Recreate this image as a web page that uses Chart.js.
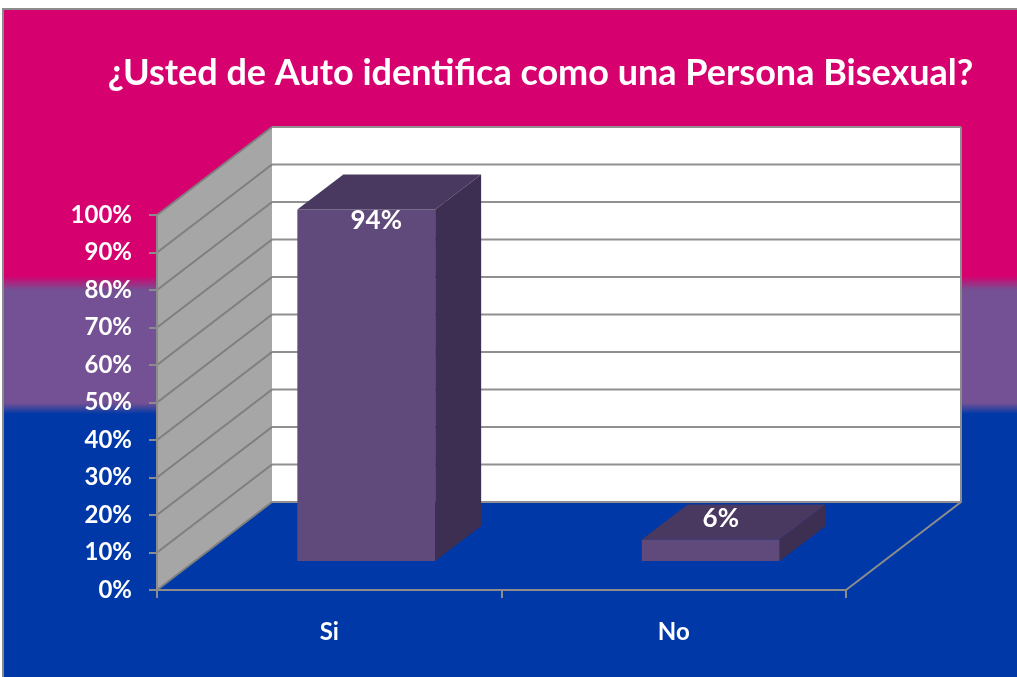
<!DOCTYPE html>
<html lang="es">
<head>
<meta charset="utf-8">
<title>¿Usted de Auto identifica como una Persona Bisexual?</title>
<script src="https://cdn.jsdelivr.net/npm/chart.js@4.4.1/dist/chart.umd.min.js"></script>
<style>
  html, body { margin: 0; padding: 0; background: #fff; overflow: hidden; }
  #wrap { width: 1017px; height: 677px; }
</style>
</head>
<body>
<div id="wrap"><canvas id="grafico" width="1017" height="677"></canvas></div>
<script>
// datos
const titulo = "¿Usted de Auto identifica como una Persona Bisexual?";
const categorias = ["Si", "No"];
const porcentajes = [94, 6];
const etiquetasValor = ["94%", "6%"];
const ticksY = [0, 10, 20, 30, 40, 50, 60, 70, 80, 90, 100];

// perspectiva (pared trasera y barras)
const PROF_X = 115, PROF_Y = -88;     // profundidad del suelo
const BARRA_TX = 37, BARRA_TY = -28;  // posicion de la cara frontal de las barras
const BARRA_DX = 46, BARRA_DY = -35;  // profundidad de cada barra

const FUENTE = "Lato, 'Open Sans', sans-serif";

function poligono(ctx, puntos, relleno, borde) {
  ctx.beginPath();
  ctx.moveTo(puntos[0][0], puntos[0][1]);
  for (let i = 1; i < puntos.length; i++) ctx.lineTo(puntos[i][0], puntos[i][1]);
  ctx.closePath();
  if (relleno) { ctx.fillStyle = relleno; ctx.fill(); }
  if (borde) { ctx.strokeStyle = borde; ctx.lineWidth = 1; ctx.stroke(); }
}

// fondo con los colores de la bandera y paredes 3D
const fondo3D = {
  id: "fondo3D",
  beforeDraw(chart) {
    const ctx = chart.ctx;
    const w = chart.width, h = chart.height;
    ctx.save();
    ctx.fillStyle = "#ffffff";
    ctx.fillRect(0, 0, w, h);

    const g = ctx.createLinearGradient(0, 0, 0, h);
    g.addColorStop(0, "#d6006f");
    g.addColorStop(276 / h, "#d6006f");
    g.addColorStop(290 / h, "#745194");
    g.addColorStop(403 / h, "#745194");
    g.addColorStop(414 / h, "#0039a7");
    g.addColorStop(1, "#0039a7");
    ctx.fillStyle = g;
    ctx.fillRect(4, 10, w - 4, h - 10);

    ctx.strokeStyle = "#8c8c8c";
    ctx.lineWidth = 2;
    ctx.beginPath();
    ctx.moveTo(3, h);
    ctx.lineTo(3, 9);
    ctx.lineTo(w, 9);
    ctx.stroke();

    const x = chart.scales.x, y = chart.scales.y;
    const L = x.left, R = x.right, T = y.top, B = y.bottom;

    // pared izquierda
    poligono(ctx, [[L, B], [L, T], [L + PROF_X, T + PROF_Y], [L + PROF_X, B + PROF_Y]], "#a6a6a6");
    // pared trasera
    poligono(ctx, [[L + PROF_X, T + PROF_Y], [R + PROF_X, T + PROF_Y], [R + PROF_X, B + PROF_Y], [L + PROF_X, B + PROF_Y]], "#ffffff");

    // lineas de division
    ctx.lineWidth = 2;
    y.ticks.forEach((t) => {
      const py = y.getPixelForValue(t.value);
      ctx.strokeStyle = "#7f7f7f";
      ctx.beginPath();
      ctx.moveTo(L, py);
      ctx.lineTo(L + PROF_X, py + PROF_Y);
      ctx.stroke();
      ctx.strokeStyle = "#909090";
      ctx.beginPath();
      ctx.moveTo(L + PROF_X, py + PROF_Y);
      ctx.lineTo(R + PROF_X, py + PROF_Y);
      ctx.stroke();
    });

    // bordes
    ctx.strokeStyle = "#8c8c8c";
    ctx.lineWidth = 2;
    ctx.beginPath();
    ctx.moveTo(R + PROF_X, T + PROF_Y);
    ctx.lineTo(R + PROF_X, B + PROF_Y);
    ctx.lineTo(R, B);
    ctx.stroke();
    ctx.restore();
  },
  beforeDatasetsDraw(chart) {
    chart.ctx.save();
    chart.ctx.translate(BARRA_TX, BARRA_TY);
  },
  afterDatasetsDraw(chart) {
    const ctx = chart.ctx;
    ctx.restore();
    ctx.save();
    const meta = chart.getDatasetMeta(0);
    meta.data.forEach((barra, i) => {
      const p = barra.getProps(["x", "y", "base", "width"], true);
      const izq = p.x - p.width / 2 + BARRA_TX;
      const der = p.x + p.width / 2 + BARRA_TX;
      const arriba = p.y + BARRA_TY;
      const abajo = p.base + BARRA_TY;
      // cara superior
      poligono(ctx, [[izq, arriba], [izq + BARRA_DX, arriba + BARRA_DY], [der + BARRA_DX, arriba + BARRA_DY], [der, arriba]], "#49385f");
      // cara lateral
      poligono(ctx, [[der, arriba], [der + BARRA_DX, arriba + BARRA_DY], [der + BARRA_DX, abajo + BARRA_DY], [der, abajo]], "#3d2f51");

      // etiqueta de valor
      ctx.fillStyle = "#ffffff";
      ctx.font = "bold 26px " + FUENTE;
      ctx.textAlign = "center";
      ctx.textBaseline = "middle";
      const alto = abajo - arriba;
      const ty = alto > 40 ? arriba + 11 : arriba - 21;
      ctx.fillText(etiquetasValor[i], (izq + der) / 2 + 10, ty);
    });
    ctx.restore();
  },
};

function crearGrafico() {
  const ctx = document.getElementById("grafico").getContext("2d");
  new Chart(ctx, {
    type: "bar",
    data: {
      labels: categorias,
      datasets: [
        {
          label: "Porcentaje",
          data: porcentajes,
          backgroundColor: "#604a7c",
          borderWidth: 0,
          categoryPercentage: 0.8,
          barPercentage: 0.5,
        },
      ],
    },
    options: {
      responsive: false,
      animation: false,
      devicePixelRatio: 1,
      layout: { padding: { left: 64, right: 0, top: 0, bottom: 0 } },
      plugins: {
        legend: { display: false },
        tooltip: { enabled: false },
        title: {
          display: true,
          text: titulo,
          color: "#ffffff",
          font: { family: FUENTE, size: 36, weight: "bold", lineHeight: 1.2 },
          padding: { top: 52, bottom: 119.8 },
        },
      },
      scales: {
        x: {
          grid: { drawOnChartArea: false, drawTicks: true, tickLength: 8, color: "#8c8c8c", lineWidth: 2, offset: true },
          border: { display: true, color: "#8c8c8c", width: 2 },
          ticks: { color: "#ffffff", font: { family: FUENTE, size: 24, weight: "bold" }, padding: 20 },
          afterFit(scale) { scale.height = 87; },
        },
        y: {
          min: 0,
          max: 100,
          afterBuildTicks(scale) { scale.ticks = ticksY.map((v) => ({ value: v })); },
          grid: { drawOnChartArea: false, drawTicks: true, tickLength: 8, color: "#8c8c8c", lineWidth: 2 },
          border: { display: true, color: "#8c8c8c", width: 2 },
          ticks: {
            color: "#ffffff",
            font: { family: FUENTE, size: 24, weight: "bold" },
            padding: 17,
            callback: (v) => v + "%",
          },
          afterFit(scale) { scale.width = 93; },
        },
        derecha: {
          type: "linear",
          position: "right",
          display: true,
          grid: { display: false },
          border: { display: false },
          ticks: { display: false },
          afterFit(scale) { scale.width = 171; },
        },
      },
    },
    plugins: [fondo3D],
  });
}

if (document.fonts && document.fonts.load) {
  Promise.all([
    document.fonts.load("bold 36px Lato"),
    document.fonts.load("bold 24px Lato"),
  ]).then(crearGrafico, crearGrafico);
} else {
  crearGrafico();
}
</script>
</body>
</html>
